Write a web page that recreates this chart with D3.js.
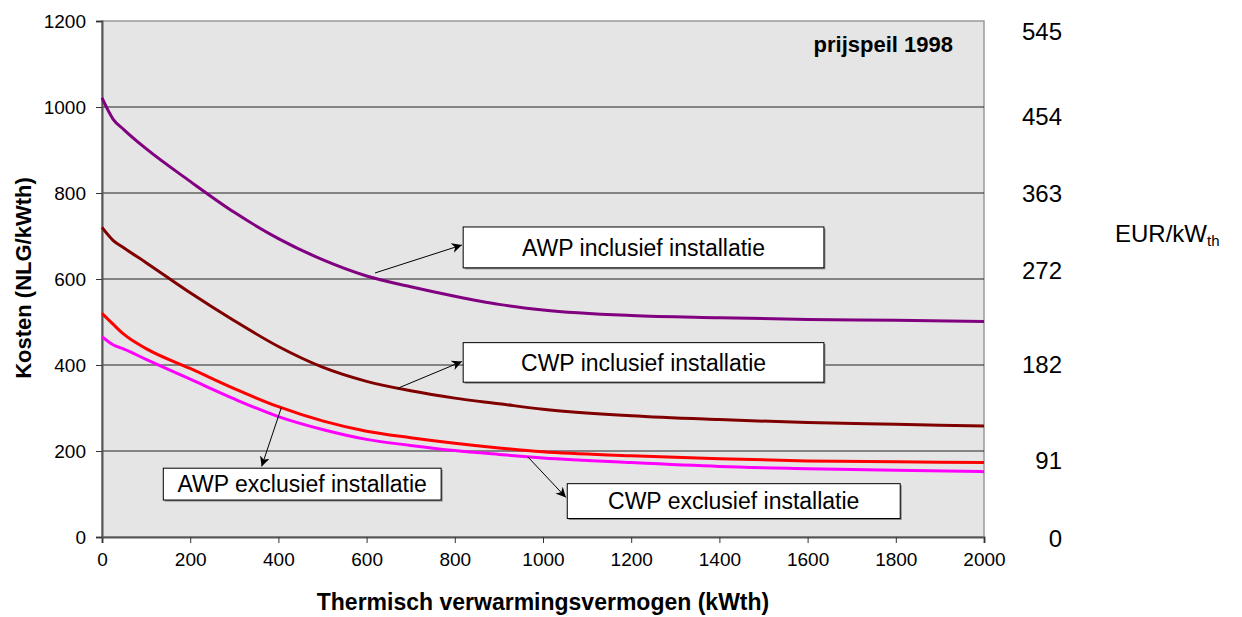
<!DOCTYPE html>
<html>
<head>
<meta charset="utf-8">
<script src="https://cdn.jsdelivr.net/npm/d3@7"></script>
<style>
  body { margin: 0; background: #fff; }
  text { font-family: Arial, "Liberation Sans", sans-serif; fill: #000; }
</style>
</head>
<body>
<svg class="chart" width="1242" height="617"></svg>
<script>
// capacity (kWth)
var kw = [0, 25, 50, 100, 200, 300, 400, 500, 600, 700, 800, 900, 1000, 1200, 1400, 1600, 1800, 2000];

// costs in NLG/kWth, price level 1998
var awpIncl = [1021, 972, 947, 903, 827, 755, 694, 645, 607, 582, 560, 541, 528, 515, 510, 506, 504, 501];
var cwpIncl = [720, 690, 672, 638, 568, 503, 443, 395, 362, 340, 323, 310, 297, 282, 273, 266, 262, 258];
var awpExcl = [520, 495, 471, 438, 392, 345, 303, 270, 246, 231, 218, 207, 198, 189, 182, 177, 175, 173];
var cwpExcl = [466, 447, 437, 413, 367, 321, 280, 250, 227, 213, 201, 192, 184, 173, 164, 159, 155, 152];

var xTicks = [0, 200, 400, 600, 800, 1000, 1200, 1400, 1600, 1800, 2000];
var yTicks = [0, 200, 400, 600, 800, 1000, 1200];
var eurLabels = [545, 454, 363, 272, 182, 91, 0];
var nlgPerEur = 2.20371;

var series = [
  { name: "AWP inclusief installatie", values: awpIncl, color: "#800080" },
  { name: "CWP inclusief installatie", values: cwpIncl, color: "#800000" },
  { name: "AWP exclusief installatie", values: awpExcl, color: "#ff0000" },
  { name: "CWP exclusief installatie", values: cwpExcl, color: "#ff00ff" }
];

// callout boxes and arrows, in data units
var callouts = [
  { label: "AWP inclusief installatie", box: [819, 1637, 721, 626], from: [619, 614], to: [816, 679] },
  { label: "CWP inclusief installatie", box: [819, 1637, 452, 360], from: [671, 346], to: [816, 408] },
  { label: "CWP exclusief installatie", box: [1055, 1810, 124, 43], from: [965, 187], to: [1052, 92] },
  { label: "AWP exclusief installatie", box: [139, 769, 160, 86], from: [407, 302], to: [362, 164] }
];

var svg = d3.select(".chart");
var margin = { left: 102, top: 21, right: 258, bottom: 80 };
var width = 1242 - margin.left - margin.right;
var height = 617 - margin.top - margin.bottom;

var x = d3.scaleLinear().domain([0, 2000]).range([0, width]);
var y = d3.scaleLinear().domain([0, 1200]).range([height, 0]);

svg.append("defs").append("marker")
  .attr("id", "arrow")
  .attr("viewBox", "0 0 10 10")
  .attr("refX", 10).attr("refY", 5)
  .attr("markerWidth", 10).attr("markerHeight", 10)
  .attr("markerUnits", "userSpaceOnUse")
  .attr("orient", "auto")
  .append("path")
  .attr("d", "M0,0 L10,5 L0,10 L3,5 Z")
  .attr("fill", "#000");

var g = svg.append("g").attr("transform", "translate(" + margin.left + "," + margin.top + ")");

g.append("rect")
  .attr("width", width).attr("height", height)
  .attr("fill", "#e5e5e5")
  .attr("stroke", "#999").attr("stroke-width", 1.5);

g.selectAll(".grid")
  .data(yTicks.filter(function(d) { return d > 0 && d < 1200; }))
  .enter().append("line")
  .attr("x1", 0).attr("x2", width)
  .attr("y1", function(d) { return y(d); })
  .attr("y2", function(d) { return y(d); })
  .attr("stroke", "#222").attr("stroke-width", 1);

var xAxis = g.append("g")
  .attr("transform", "translate(0," + height + ")")
  .call(d3.axisBottom(x).tickValues(xTicks).tickSize(6).tickPadding(10).tickFormat(d3.format("d")));

var yAxis = g.append("g")
  .call(d3.axisLeft(y).tickValues(yTicks).tickSize(6).tickPadding(10).tickFormat(d3.format("d")));

[xAxis, yAxis].forEach(function(ax) {
  ax.select(".domain").attr("stroke", "#555").attr("stroke-width", 2);
  ax.selectAll(".tick line").attr("stroke", "#333");
  ax.selectAll("text")
    .attr("font-family", "Arial, 'Liberation Sans', sans-serif")
    .attr("font-size", 19).attr("fill", "#000");
});

var line = d3.line()
  .x(function(d, i) { return x(kw[i]); })
  .y(function(d) { return y(d); })
  .curve(d3.curveMonotoneX);

g.selectAll(".series")
  .data(series).enter()
  .append("path")
  .attr("d", function(s) { return line(s.values); })
  .attr("fill", "none")
  .attr("stroke", function(s) { return s.color; })
  .attr("stroke-width", 3);

callouts.forEach(function(c) {
  g.append("line")
    .attr("x1", x(c.from[0])).attr("y1", y(c.from[1]))
    .attr("x2", x(c.to[0])).attr("y2", y(c.to[1]))
    .attr("stroke", "#000").attr("stroke-width", 1)
    .attr("marker-end", "url(#arrow)");

  var bx = x(c.box[0]), bw = x(c.box[1]) - x(c.box[0]);
  var by = y(c.box[2]), bh = y(c.box[3]) - y(c.box[2]);
  g.append("rect")
    .attr("x", bx + 1.5).attr("y", by + 1.5)
    .attr("width", bw).attr("height", bh)
    .attr("fill", "#888");
  g.append("rect")
    .attr("x", bx).attr("y", by)
    .attr("width", bw).attr("height", bh)
    .attr("fill", "#fff").attr("stroke", "#000").attr("stroke-width", 1);
  g.append("text")
    .attr("x", bx + bw / 2).attr("y", by + bh / 2)
    .attr("dy", "0.36em")
    .attr("text-anchor", "middle")
    .attr("font-size", 23)
    .text(c.label);
});

g.append("text")
  .attr("x", 851).attr("y", 31)
  .attr("text-anchor", "end")
  .attr("font-size", 22).attr("font-weight", "bold")
  .text("prijspeil 1998");

// right hand EUR labels (placed as loose text boxes in the original)
var eurNudge = [11, 10, 0, -9, 0, 10, 1];
g.selectAll(".eur")
  .data(eurLabels).enter()
  .append("text")
  .attr("x", 960)
  .attr("y", function(d, i) { return y(d * nlgPerEur) + eurNudge[i]; })
  .attr("dy", "0.36em")
  .attr("text-anchor", "end")
  .attr("font-size", 24)
  .text(function(d) { return d; });

var eur = svg.append("text")
  .attr("x", 1115).attr("y", 242)
  .attr("font-size", 24);
eur.append("tspan").text("EUR/kW");
eur.append("tspan").attr("font-size", 15).attr("dy", 4).text("th");

svg.append("text")
  .attr("x", margin.left + width / 2).attr("y", 610)
  .attr("text-anchor", "middle")
  .attr("font-size", 23).attr("font-weight", "bold")
  .text("Thermisch verwarmingsvermogen (kWth)");

svg.append("text")
  .attr("transform", "translate(31,278) rotate(-90)")
  .attr("text-anchor", "middle")
  .attr("font-size", 22).attr("font-weight", "bold")
  .text("Kosten (NLG/kWth)");
</script>
</body>
</html>
